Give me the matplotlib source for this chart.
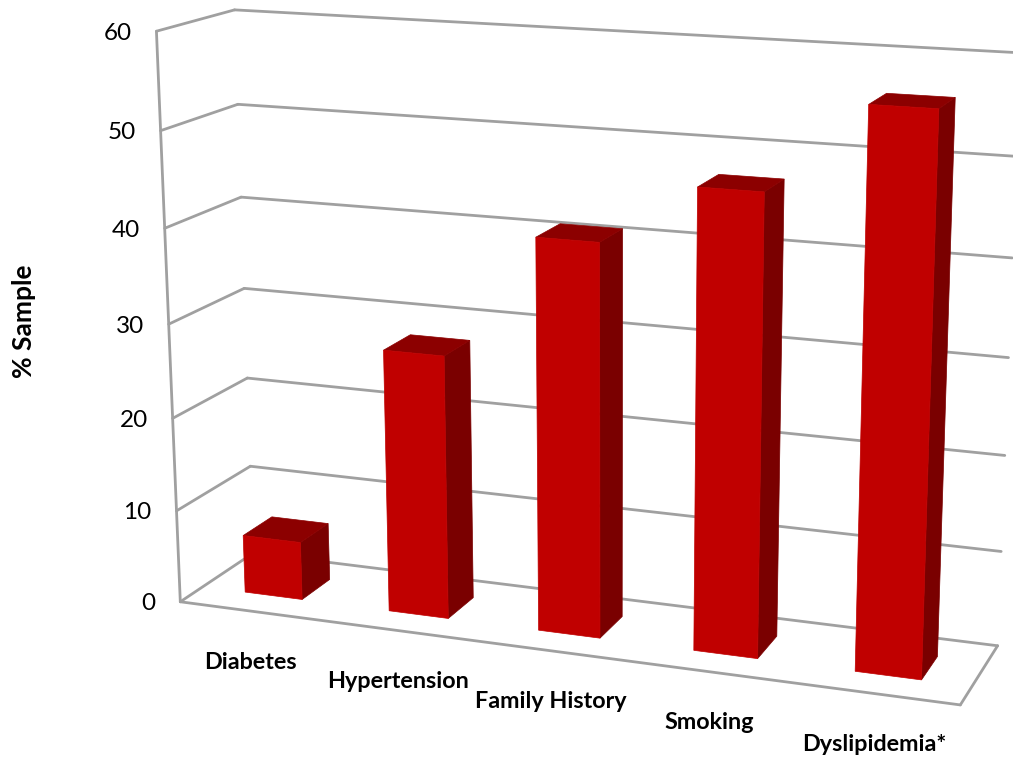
import matplotlib
matplotlib.use("Agg")
import matplotlib.pyplot as plt
from matplotlib.patches import Polygon
import numpy as np

categories = ["Diabetes", "Hypertension", "Family History", "Smoking", "Dyslipidemia*"]
values = [6.3, 28, 41, 47.2, 56.2]
ticks = [0, 10, 20, 30, 40, 50, 60]

FRONT = "#c00000"
TOP = "#8c0000"
SIDE = "#7a0000"
GRID = "#a0a0a0"
BAR_W = 0.40
D0, D1 = 0.30, 0.70

# (category pos, depth, value) -> screen pixel, for the 3D camera
world = [(0, 0, 0), (0, 0, 60), (0, 1, 60), (0, 1, 10), (0, 1, 0),
         (5, 0, 0), (5, 1, 0), (5, 1, 10), (5, 1, 60)]
screen = [(181, 601), (156, 31), (235, 10), (250, 466), (253, 554),
          (960, 706), (998, 645), (1001, 551), (1020, 53)]


def fit_camera(world, screen):
    rows, rhs = [], []
    for (x, y, z), (u, v) in zip(world, screen):
        rows.append([x, y, z, 1, 0, 0, 0, 0, -u*x, -u*y, -u*z])
        rows.append([0, 0, 0, 0, x, y, z, 1, -v*x, -v*y, -v*z])
        rhs += [u, v]
    p = np.linalg.lstsq(np.array(rows, float), np.array(rhs, float), rcond=None)[0]
    return np.append(p, 1).reshape(3, 4)


cam = fit_camera(world, screen)


def proj(x, y, z):
    u, v, w = cam @ np.array([x, y, z, 1.0])
    return u / w, v / w


fig = plt.figure(figsize=(10.13, 7.61), dpi=100)
ax = fig.add_axes([0, 0, 1, 1])
ax.set_xlim(0, 1013)
ax.set_ylim(761, 0)
ax.axis("off")


def line3d(a, b, lw=2.0):
    p, q = proj(*a), proj(*b)
    ax.plot([p[0], q[0]], [p[1], q[1]], color=GRID, lw=lw, solid_capstyle="round", zorder=1)


# walls and floor
for t in ticks:
    line3d((0, 0, t), (0, 1, t))
    line3d((0, 1, t), (5, 1, t))
line3d((0, 0, 0), (0, 0, 60))
line3d((0, 0, 0), (5, 0, 0))
line3d((5, 0, 0), (5, 1, 0))

# bars
for i, val in enumerate(values):
    x0, x1 = i + 0.5 - BAR_W / 2, i + 0.5 + BAR_W / 2
    faces = [
        ([(x1, D0, 0), (x1, D1, 0), (x1, D1, val), (x1, D0, val)], SIDE),
        ([(x0, D0, val), (x1, D0, val), (x1, D1, val), (x0, D1, val)], TOP),
        ([(x0, D0, 0), (x1, D0, 0), (x1, D0, val), (x0, D0, val)], FRONT),
    ]
    for pts, col in faces:
        ax.add_patch(Polygon([proj(*p) for p in pts], closed=True, fc=col, ec=col, lw=0.5, zorder=2 + i))

plt.rcParams["font.family"] = "Lato"
for t in ticks:
    u, v = proj(0, 0, t)
    ax.text(u - 25, v + 2, str(t), ha="right", va="center", fontsize=17.5, color="black")

for i, name in enumerate(categories):
    u, v = proj(i + 0.5, 0, 0)
    ax.text(u - 1, v + 51, name, ha="center", va="center", fontsize=16.8, fontweight="bold", color="black")

ax.text(24, 321, "% Sample", rotation=90, ha="center", va="center", fontsize=19, fontweight="bold", color="black")

fig.savefig("out.png", dpi=100)
